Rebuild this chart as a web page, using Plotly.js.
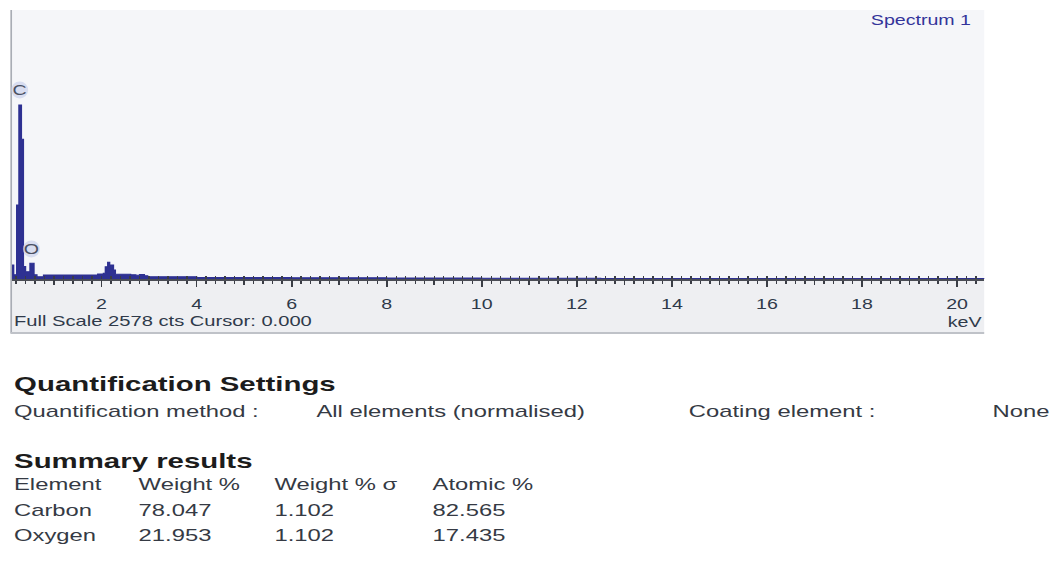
<!DOCTYPE html>
<html>
<head>
<meta charset="utf-8">
<script src="https://cdn.plot.ly/plotly-3.0.1.min.js"></script>
<style>
  html, body { margin:0; padding:0; background:#ffffff; }
  #wrap { width:1052px; height:583px; overflow:hidden; position:relative; }
  #chart { height:583px; transform-origin:0 0; }
</style>
</head>
<body>
<div id="wrap"><div id="chart"></div></div>
<script>
// ---- data ----
const energyKeV = [0.11, 0.15, 0.214, 0.262, 0.313, 0.355, 0.40, 0.494, 0.578, 0.64, 0.78, 1.92, 2.04, 2.08, 2.13, 2.17, 2.20, 2.25, 2.29, 2.61, 2.72, 2.80, 2.90, 2.97, 4.0, 6.0, 8.0, 10.0, 12.5, 20.6];
const counts    = [134, 40, 709, 1668, 1340, 120, 70, 150, 40, 22, 38, 48, 55, 118, 160, 108, 134, 86, 45, 40, 35, 42, 30, 22, 15, 12, 10, 8, 4, 2];
const fullScale = 2578;
const tickValues = [2, 4, 6, 8, 10, 12, 14, 16, 18, 20];
const tickLabels = ['2', '4', '6', '8', '10', '12', '14', '16', '18', '20'];
const peakNames  = ['C', 'O'];
const peakKeV    = [0.277, 0.523];
const peakLabelY = [1811, 287];
const tableHeader = ['Element', 'Weight %', 'Weight % σ', 'Atomic %'];
const elements    = ['Carbon', 'Oxygen'];
const weightPct   = ['78.047', '21.953'];
const weightSigma = ['1.102', '1.102'];
const atomicPct   = ['82.565', '17.435'];

// ---- geometry (reference image is horizontally stretched) ----
const S = 1.4, W = 1052 / S, H = 583;
const L = 10.5 / S, R = W - 985 / S, T = 10, B = H - 279.5;
const pw = W - L - R, ph = H - T - B;
function px(xr) { return (xr / S - L) / pw; }
function py(yr) { return (H - B - yr) / ph; }
document.getElementById('chart').style.width = W + 'px';
document.getElementById('chart').style.transform = 'scaleX(' + S + ')';

const xr = [(10.5 - 5.8) / 47.6, (985 - 5.8) / 47.6];
const FONT = 'Liberation Sans, Arial, sans-serif';
const txt = '#353a44';

const traces = [
  { x: energyKeV, y: counts, type: 'scatter', mode: 'lines',
    line: { shape: 'hv', color: '#2e3192', width: 1 },
    fill: 'tozeroy', fillcolor: '#2e3192', hoverinfo: 'skip', showlegend: false },
  { x: [null], y: [null], xaxis: 'x2', type: 'scatter', mode: 'lines', hoverinfo: 'skip', showlegend: false },
  { x: [null], y: [null], xaxis: 'x3', type: 'scatter', mode: 'lines', hoverinfo: 'skip', showlegend: false }
];

const shapes = [
  // lower band of the panel
  { type: 'rect', xref: 'paper', yref: 'paper', x0: px(10), x1: px(985), y0: py(279.5), y1: py(333),
    fillcolor: '#eeeff2', line: { width: 0 }, layer: 'below' },
  // left border
  { type: 'line', xref: 'paper', yref: 'paper', x0: px(10.5), x1: px(10.5), y0: py(10), y1: py(334),
    line: { color: '#a9adb5', width: 1.2 } },
  // bottom border
  { type: 'line', xref: 'paper', yref: 'paper', x0: px(10), x1: px(985), y0: py(333.5), y1: py(333.5),
    line: { color: '#bfc2c8', width: 2 } }
];
peakNames.forEach((n, i) => {
  shapes.push({ type: 'circle', xref: 'x', yref: 'y', xsizemode: 'pixel', ysizemode: 'pixel',
    xanchor: peakKeV[i], yanchor: peakLabelY[i], x0: -8.5 / S, x1: 8.5 / S, y0: -8.5, y1: 8.5,
    fillcolor: 'rgba(205,212,236,0.75)', line: { width: 0 } });
});

const annotations = [];
function ann(text, xRef, yRef, opts) {
  annotations.push(Object.assign({ text: text, xref: 'paper', yref: 'paper', x: px(xRef), y: py(yRef),
    xanchor: 'left', yanchor: 'middle', showarrow: false,
    font: { family: FONT, size: 17, color: txt } }, opts || {}));
}
peakNames.forEach((n, i) => {
  annotations.push({ text: n, xref: 'x', yref: 'y', x: peakKeV[i], y: peakLabelY[i], showarrow: false,
    xanchor: 'center', yanchor: 'middle', font: { family: FONT, size: 14, color: '#4a5062' } });
});
ann('Spectrum 1', 975, 20, { xanchor: 'right', font: { family: FONT, size: 14, color: '#33349a' } });
ann('Full Scale ' + fullScale + ' cts Cursor: 0.000', 11, 322, { font: { family: FONT, size: 14.4, color: '#2f3a4a' } });
ann('keV', 986, 323, { xanchor: 'right', font: { family: FONT, size: 14, color: '#2f3a4a' } });

ann('<b>Quantification Settings</b>', 11, 384, { font: { family: FONT, size: 21, color: '#1c1c1c' } });
ann('Quantification method :', 11, 412);
ann('All elements (normalised)', 313, 412);
ann('Coating element :', 687, 412);
ann('None', 990, 412);
ann('<b>Summary results</b>', 11, 461, { font: { family: FONT, size: 21, color: '#1c1c1c' } });
const colX = [11, 135, 272, 430];
tableHeader.forEach((h, j) => ann(h, colX[j], 485));
const rowY = [511, 536];
elements.forEach((e, i) => {
  ann(e, colX[0], rowY[i]);
  ann(weightPct[i], colX[1], rowY[i]);
  ann(weightSigma[i], colX[2], rowY[i]);
  ann(atomicPct[i], colX[3], rowY[i]);
});

const axisBase = { range: xr, fixedrange: true, showgrid: false, zeroline: false };
const layout = {
  width: W, height: H,
  margin: { l: L, r: R, t: T, b: B, pad: 0 },
  paper_bgcolor: '#ffffff', plot_bgcolor: '#f5f6f9',
  showlegend: false,
  xaxis: Object.assign({}, axisBase, {
    showline: true, linecolor: '#4a4d55', linewidth: 1.5,
    tickmode: 'array', tickvals: tickValues, ticktext: tickLabels,
    ticks: 'outside', ticklen: 6, tickwidth: 1.2, tickcolor: '#3a3d45',
    ticklabelstandoff: 6,
    tickfont: { family: FONT, size: 14, color: '#2f3a4a' },
    minor: { tickmode: 'linear', tick0: 0, dtick: 0.2, ticks: 'outside', ticklen: 3, tickwidth: 1, tickcolor: '#3a3d45' }
  }),
  xaxis2: Object.assign({}, axisBase, {
    overlaying: 'x', anchor: 'y', side: 'bottom', showline: false, showticklabels: false,
    tickmode: 'linear', tick0: 0, dtick: 1, ticks: 'outside', ticklen: 4.5, tickwidth: 1.2, tickcolor: '#3a3d45'
  }),
  xaxis3: Object.assign({}, axisBase, {
    overlaying: 'x', anchor: 'y', side: 'bottom', showline: false, showticklabels: false,
    tickmode: 'linear', tick0: 0, dtick: 0.2, ticks: 'inside', ticklen: 3, tickwidth: 1, tickcolor: '#3a3d45'
  }),
  yaxis: { range: [0, fullScale], fixedrange: true, visible: false, showgrid: false, zeroline: false },
  shapes: shapes,
  annotations: annotations
};

Plotly.newPlot('chart', traces, layout, { staticPlot: true, displayModeBar: false });
</script>
</body>
</html>
